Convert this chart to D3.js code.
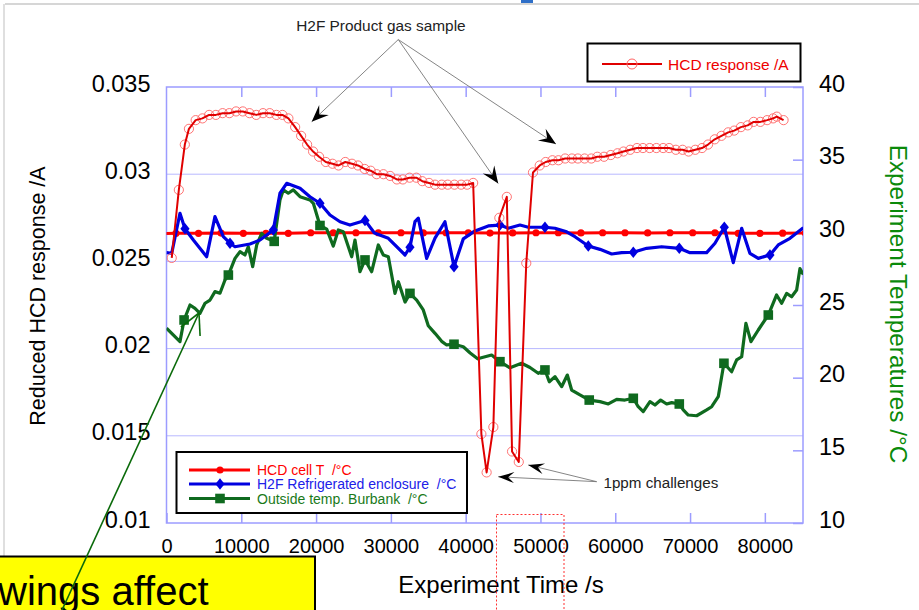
<!DOCTYPE html>
<html><head><meta charset="utf-8">
<script src="https://cdn.jsdelivr.net/npm/d3@7"></script>
<style>body{margin:0;background:#fff}svg{display:block}text{font-family:"Liberation Sans",Arial,Helvetica,sans-serif;white-space:pre}</style>
</head><body><svg id="c" width="919" height="610"></svg>
<script>
// ---------- DATA ----------
const responseTime = [700,1650,2450,3000,3900,4800,5700,6600,7500,8400,9300,10200,11100,12000,12900,13800,14700,15500,16300,17200,18000,18800,19600,20400,21300,22200,23000,23900,24800,25600,26500,27300,28100,29000,29900,30800,31600,32500,33400,34200,35100,35900,36800,37600,38500,39400,40200,41000,42100,42800,43700,44500,45500,46200,47100,48100,49000,49900,50700,51600,52400,53300,54200,55000,55900,56800,57600,58500,59400,60300,61100,62000,62900,63700,64600,65500,66400,67200,68100,69000,69800,70700,71600,72400,73300,74200,75100,75900,76800,77700,78500,79400,80300,81100,81600,82500];
const responseValue = [0.0252,0.0291,0.0317,0.0326,0.0331,0.0332,0.0334,0.0334,0.0335,0.0335,0.0336,0.0336,0.0335,0.0334,0.0335,0.0335,0.0334,0.0334,0.0332,0.0327,0.0322,0.0317,0.0313,0.0310,0.0307,0.0306,0.0305,0.0307,0.0306,0.0305,0.0303,0.0302,0.0300,0.0300,0.0299,0.0297,0.0297,0.0298,0.0298,0.0296,0.0295,0.0294,0.0294,0.0294,0.0294,0.0294,0.0294,0.0295,0.0151,0.0129,0.0155,0.0275,0.0287,0.0141,0.0135,0.0249,0.0301,0.0305,0.0307,0.0308,0.0308,0.0309,0.0309,0.0309,0.0309,0.0309,0.0310,0.0310,0.0311,0.0312,0.0313,0.0314,0.0315,0.0315,0.0315,0.0315,0.0315,0.0315,0.0314,0.0314,0.0313,0.0314,0.0315,0.0317,0.0320,0.0322,0.0324,0.0325,0.0327,0.0328,0.0330,0.0330,0.0331,0.0332,0.0333,0.0331];

const cellTTime = [-1735,1270,4280,7290,10270,13300,16280,19280,22300,25330,28320,31350,34330,37370,40350,43250,46280,49400,52380,55410,58310,61300,64330,67310,70350,73330,76440,79340,82380,85400];
const cellTValue = [29.92,29.93,29.93,29.95,29.93,29.93,29.93,29.97,29.97,29.97,29.97,29.97,29.96,29.97,29.97,29.95,29.96,29.97,29.97,29.96,29.97,29.97,29.96,29.97,29.97,29.97,29.93,29.93,29.94,29.95];

const enclosureTime = [0,700,1800,2470,3590,5370,6480,7600,8490,9160,11160,12500,14280,15170,16070,17850,19180,20520,21860,23200,24530,26540,27800,29660,31890,32550,33220,33670,34780,35900,37230,38440,39680,41240,43020,44580,45700,47260,48370,50600,51940,53500,54610,56390,57960,59520,60860,62410,64200,66210,68560,69990,72220,73330,74580,75780,76900,78000,79120,80680,81790,83360,85140];
const enclosureValue = [28.60,28.56,31.31,30.25,29.47,28.32,31.08,29.70,29.25,29.01,29.20,29.47,30.16,32.69,33.37,33.03,32.45,32.00,31.19,30.73,30.50,30.82,29.95,29.59,28.44,28.98,30.73,30.97,28.21,29.60,30.73,27.64,29.55,30.10,30.44,30.50,30.28,30.50,30.35,30.35,30.28,30.04,29.70,29.06,28.83,28.51,28.60,28.63,28.90,29.01,28.90,28.60,28.60,29.25,30.35,27.91,30.28,28.56,28.21,28.44,29.13,29.59,30.32];
const enclosureMarkerTime = [2470,8490,14280,20520,26540,32550,38440,44580,50600,56390,62410,68560,74580,80680];

const outsideTime = [0,1800,2350,3140,3810,4480,5150,5820,6480,7150,7820,8270,9160,9830,10490,10940,11520,12060,12730,13400,14400,15170,15620,16280,16950,17850,19180,19630,20520,21420,22300,22970,23640,24760,25200,25870,26540,27430,28320,28990,29660,30550,31000,31890,32550,33450,34330,35000,35900,36790,37460,38440,39680,40600,41600,43470,44580,45920,47480,48600,49700,50600,51180,51940,52830,53590,54170,55280,56520,57960,59070,60190,61300,62410,63070,63740,64640,65310,66070,66870,67540,68560,69090,69760,70880,72220,72890,73770,74530,75560,76230,76900,77470,78140,79120,80460,81570,82240,82910,83580,84250,84690,85140];
const outsideValue = [23.40,22.48,23.97,25.00,24.77,24.43,25.12,25.34,25.92,25.81,26.72,27.06,28.21,28.67,28.44,29.01,27.64,29.13,29.93,29.59,29.38,32.23,32.92,32.69,32.92,32.45,32.23,32.00,30.47,30.22,29.05,30.16,30.04,28.32,29.47,27.29,28.10,27.29,29.13,28.44,28.32,25.80,26.60,25.20,25.80,25.34,24.66,23.57,23.05,22.50,22.25,22.30,22.13,21.70,21.30,21.56,21.10,20.68,20.99,20.70,20.30,20.53,19.72,20.07,19.38,20.18,19.15,18.81,18.46,18.35,18.19,18.51,18.46,18.58,18.00,17.66,18.35,18.12,18.46,18.19,18.28,18.19,17.78,17.43,17.38,17.78,18.00,18.69,20.99,20.41,21.22,21.44,23.74,22.48,23.28,24.31,25.69,25.12,25.80,25.57,26.03,27.50,27.10];
const outsideMarkerTime = [2350,8270,14400,20520,26540,32550,38440,44580,50600,56520,62410,68560,74530,80460];

const xTicks = [0,10000,20000,30000,40000,50000,60000,70000,80000];
const leftTicks = [0.01,0.015,0.02,0.025,0.03,0.035];
const rightTicks = [10,15,20,25,30,35,40];
const legendLabels = ["HCD cell T  /°C","H2F Refrigerated enclosure  /°C","Outside temp. Burbank  /°C"];
const responseLabel = "HCD response /A";

// ---------- LAYOUT ----------
const FONT = '"Liberation Sans",Arial,Helvetica,sans-serif';
const svg = d3.select("#c");
const m = {left:166.5, right:803, top:87, bottom:523};
const x = d3.scaleLinear().domain([0,85100]).range([m.left,m.right]);
const yL = d3.scaleLinear().domain([0.01,0.035]).range([m.bottom,m.top]);
const yR = d3.scaleLinear().domain([10,40]).range([m.bottom,m.top]);
const frameCol = "#9c9cff", gridCol = "#b8b8ff";
const RED = "#ff0000", RESP = "#e00000", BLUE = "#0000e0", GREEN = "#0f6a1f";

// slide decorations
svg.append("line").attr("x1",5).attr("x2",919).attr("y1",4).attr("y2",4).attr("stroke","#c8c8c8").attr("stroke-width",1.5);
svg.append("line").attr("x1",4).attr("x2",4).attr("y1",4).attr("y2",556).attr("stroke","#d4d4d4").attr("stroke-width",1.5);
svg.append("rect").attr("x",521).attr("y",0).attr("width",12).attr("height",3).attr("fill","#2f6fc8");

// gridlines
svg.append("g").selectAll("line").data(leftTicks.slice(1,-1)).join("line")
  .attr("x1",m.left).attr("x2",m.right).attr("y1",d=>yL(d)).attr("y2",d=>yL(d))
  .attr("stroke",gridCol).attr("stroke-width",1);

// axes
const fmtL = d3.format(".3~f");
const gL = svg.append("g").attr("transform",`translate(${m.left},0)`)
  .call(d3.axisLeft(yL).tickValues(leftTicks).tickSize(0).tickPadding(16).tickFormat(fmtL));
gL.select(".domain").remove();
gL.attr("font-family",FONT).attr("font-size",23.5);
gL.selectAll("text").attr("dy","0.17em").attr("fill","#000");

const gB = svg.append("g").attr("transform",`translate(0,${m.bottom})`)
  .call(d3.axisBottom(x).tickValues(xTicks).tickSizeInner(-10).tickSizeOuter(0).tickPadding(16).tickFormat(d3.format("d")));
gB.select(".domain").remove();
gB.attr("font-family",FONT).attr("font-size",20);
gB.selectAll("line").attr("stroke",frameCol).attr("stroke-width",1.5);
gB.selectAll("text").attr("fill","#000");

const gT = svg.append("g").attr("transform",`translate(0,${m.top})`)
  .call(d3.axisTop(x).tickValues(xTicks.slice(1)).tickSizeInner(-10).tickSizeOuter(0).tickFormat(""));
gT.select(".domain").remove();
gT.selectAll("line").attr("stroke",frameCol).attr("stroke-width",1.5);

const gR = svg.append("g").attr("transform",`translate(${m.right},0)`)
  .call(d3.axisRight(yR).tickValues(rightTicks).tickSizeInner(-10).tickSizeOuter(0).tickPadding(16));
gR.select(".domain").remove();
gR.attr("font-family",FONT).attr("font-size",23.5);
gR.selectAll("line").attr("stroke",frameCol).attr("stroke-width",1.5);
gR.selectAll("text").attr("dy","0.17em").attr("fill","#000");

// frame
svg.append("rect").attr("x",m.left).attr("y",m.top).attr("width",m.right-m.left).attr("height",m.bottom-m.top)
  .attr("fill","none").attr("stroke",frameCol).attr("stroke-width",1.5);

// clip
svg.append("clipPath").attr("id","plotclip").append("rect")
  .attr("x",m.left).attr("y",m.top).attr("width",m.right-m.left).attr("height",m.bottom-m.top);
const plot = svg.append("g").attr("clip-path","url(#plotclip)");

// HCD cell T
const cellT = cellTTime.map((t,i)=>({t,v:cellTValue[i]}));
plot.append("path").datum(cellT).attr("fill","none").attr("stroke",RED).attr("stroke-width",3)
  .attr("stroke-linejoin","round").attr("d",d3.line().x(d=>x(d.t)).y(d=>yR(d.v)));
plot.append("g").selectAll("circle").data(cellT).join("circle")
  .attr("cx",d=>x(d.t)).attr("cy",d=>yR(d.v)).attr("r",3.6).attr("fill",RED);

// Outside temp
const outside = outsideTime.map((t,i)=>({t,v:outsideValue[i]}));
plot.append("path").datum(outside).attr("fill","none").attr("stroke",GREEN).attr("stroke-width",3.2)
  .attr("stroke-linejoin","round").attr("d",d3.line().x(d=>x(d.t)).y(d=>yR(d.v)));
plot.append("g").selectAll("rect").data(outside.filter(d=>outsideMarkerTime.includes(d.t))).join("rect")
  .attr("x",d=>x(d.t)-4.8).attr("y",d=>yR(d.v)-4.8).attr("width",9.6).attr("height",9.6).attr("fill",GREEN);

// Enclosure
const encl = enclosureTime.map((t,i)=>({t,v:enclosureValue[i]}));
plot.append("path").datum(encl).attr("fill","none").attr("stroke",BLUE).attr("stroke-width",3.2)
  .attr("stroke-linejoin","round").attr("d",d3.line().x(d=>x(d.t)).y(d=>yR(d.v)));
plot.append("g").selectAll("path").data(encl.filter(d=>enclosureMarkerTime.includes(d.t))).join("path")
  .attr("d",d=>{const cx=x(d.t),cy=yR(d.v);return `M${cx},${cy-5.8}L${cx+4.6},${cy}L${cx},${cy+5.8}L${cx-4.6},${cy}Z`;})
  .attr("fill",BLUE);

// HCD response
const resp = responseTime.map((t,i)=>({t,v:responseValue[i]}));
plot.append("g").selectAll("circle").data(resp).join("circle")
  .attr("cx",d=>x(d.t)).attr("cy",d=>yL(d.v)).attr("r",4.6)
  .attr("fill","none").attr("stroke","#ff6464").attr("stroke-width",0.9);
plot.append("path").datum(resp).attr("fill","none").attr("stroke",RESP).attr("stroke-width",2)
  .attr("stroke-linejoin","round").attr("d",d3.line().x(d=>x(d.t)).y(d=>yL(d.v)));

// ---------- Annotations ----------
function arrowHead(g, tipX, tipY, fromX, fromY, L, W){
  const a = Math.atan2(tipY-fromY, tipX-fromX);
  const c=Math.cos(a), s=Math.sin(a);
  const P=(u,v)=>[tipX+u*c - v*s, tipY+u*s + v*c];
  const p=[P(0,0),P(-L,W/2),P(-0.62*L,0),P(-L,-W/2)];
  g.append("path").attr("d","M"+p.map(q=>q.join(",")).join("L")+"Z").attr("fill","#000");
}
const ann = svg.append("g");
const gasLabel = {t:28670, v:0.03821};
const gasOrigin = {t:30990, v:0.03772};
const gasTips = [{t:19410,v:0.03301},{t:44350,v:0.02947},{t:52070,v:0.03173}];
ann.append("text").attr("x",x(gasLabel.t)).attr("y",yL(gasLabel.v)).attr("text-anchor","middle")
  .attr("font-size",15.4).attr("fill","#222").text("H2F Product gas sample");
gasTips.forEach(tp=>{
  const ox=x(gasOrigin.t), oy=yL(gasOrigin.v), tx=x(tp.t), ty=yL(tp.v);
  ann.append("line").attr("x1",ox).attr("y1",oy).attr("x2",tx).attr("y2",ty).attr("stroke","#777").attr("stroke-width",0.9);
  arrowHead(ann,tx,ty,ox,oy,17,14);
});
const ppmLabel = {t:58420, v:0.0120};
const ppmOrigin = {t:57510, v:0.01237};
const ppmTips = [{t:44350,v:0.01265},{t:48360,v:0.01333}];
ann.append("text").attr("x",x(ppmLabel.t)).attr("y",yL(ppmLabel.v))
  .attr("font-size",15.2).attr("fill","#222").text("1ppm challenges");
ppmTips.forEach(tp=>{
  const ox=x(ppmOrigin.t), oy=yL(ppmOrigin.v), tx=x(tp.t), ty=yL(tp.v);
  ann.append("line").attr("x1",ox).attr("y1",oy).attr("x2",tx).attr("y2",ty).attr("stroke","#777").attr("stroke-width",0.9);
  arrowHead(ann,tx,ty,ox,oy,16,11);
});

// Legend 1 (HCD response)
const lg1 = svg.append("g");
lg1.append("rect").attr("x",587.5).attr("y",43.5).attr("width",213).attr("height",38).attr("fill","#fff").attr("stroke","#000").attr("stroke-width",2);
lg1.append("line").attr("x1",602).attr("x2",662).attr("y1",64).attr("y2",64).attr("stroke",RESP).attr("stroke-width",2);
lg1.append("circle").attr("cx",632).attr("cy",64).attr("r",5).attr("fill","none").attr("stroke","#ff6464").attr("stroke-width",1);
lg1.append("text").attr("x",668).attr("y",69.5).attr("font-size",15.5).attr("fill","#ee0000").text(responseLabel);

// Legend 2
const lg2 = svg.append("g");
lg2.append("rect").attr("x",176.5).attr("y",452).attr("width",290.5).attr("height",61).attr("fill","#fff").attr("stroke","#000").attr("stroke-width",2);
const legCols = [RED,BLUE,GREEN], legText = ["#ff0000","#2020e8","#1a7a1a"], legY=[470,484,498.5];
legendLabels.forEach((lab,i)=>{
  const yy=legY[i];
  lg2.append("line").attr("x1",189).attr("x2",250).attr("y1",yy).attr("y2",yy).attr("stroke",legCols[i]).attr("stroke-width",3);
  if(i===0) lg2.append("circle").attr("cx",220).attr("cy",yy).attr("r",3.6).attr("fill",RED);
  if(i===1) lg2.append("path").attr("d",`M220,${yy-5.8}L224.6,${yy}L220,${yy+5.8}L215.4,${yy}Z`).attr("fill",BLUE);
  if(i===2) lg2.append("rect").attr("x",215.2).attr("y",yy-4.8).attr("width",9.6).attr("height",9.6).attr("fill",GREEN);
  lg2.append("text").attr("x",257).attr("y",yy+5).attr("font-size",14).attr("fill",legText[i])
    .attr("xml:space","preserve").style("white-space","pre").text(lab);
});

// axis titles
svg.append("text").attr("transform","translate(45,296) rotate(-90)").attr("text-anchor","middle")
  .attr("font-size",21.5).attr("fill","#000").text("Reduced HCD response /A");
svg.append("text").attr("transform","translate(890,304) rotate(90)").attr("text-anchor","middle")
  .attr("font-size",24.3).attr("fill","#0a8a0a").text("Experiment Temperatures /°C");
svg.append("text").attr("x",501).attr("y",593).attr("text-anchor","middle")
  .attr("font-size",24).attr("fill","#000").text("Experiment Time /s");

// red dashed box
svg.append("rect").attr("x",496.5).attr("y",514.5).attr("width",67.5).attr("height",100)
  .attr("fill","none").attr("stroke","#ff3030").attr("stroke-width",1).attr("stroke-dasharray","2,2");

// yellow callout box
svg.append("rect").attr("x",-3).attr("y",556.5).attr("width",318).attr("height",60)
  .attr("fill","#ffff00").attr("stroke","#000").attr("stroke-width",2);
svg.append("text").attr("x",-2).attr("y",605).attr("font-size",40).attr("fill","#000").text("wings affect");

// green callout line with open arrowhead pointing at the outside-temperature trace
const calloutTip = {t:4344, v:24.45};
const tipX = x(calloutTip.t), tipY = yR(calloutTip.v), tailX = 62, tailY = 610;
const cg = svg.append("g").attr("stroke","#0a6a0a").attr("stroke-width",1.6).attr("fill","none");
cg.append("line").attr("x1",tailX).attr("y1",tailY).attr("x2",tipX).attr("y2",tipY);
const ang = Math.atan2(tailY-tipY, tailX-tipX);
[-0.48,0.48].forEach(da=>{
  cg.append("line").attr("x1",tipX).attr("y1",tipY)
    .attr("x2",tipX+23*Math.cos(ang+da)).attr("y2",tipY+23*Math.sin(ang+da));
});
</script></body></html>
